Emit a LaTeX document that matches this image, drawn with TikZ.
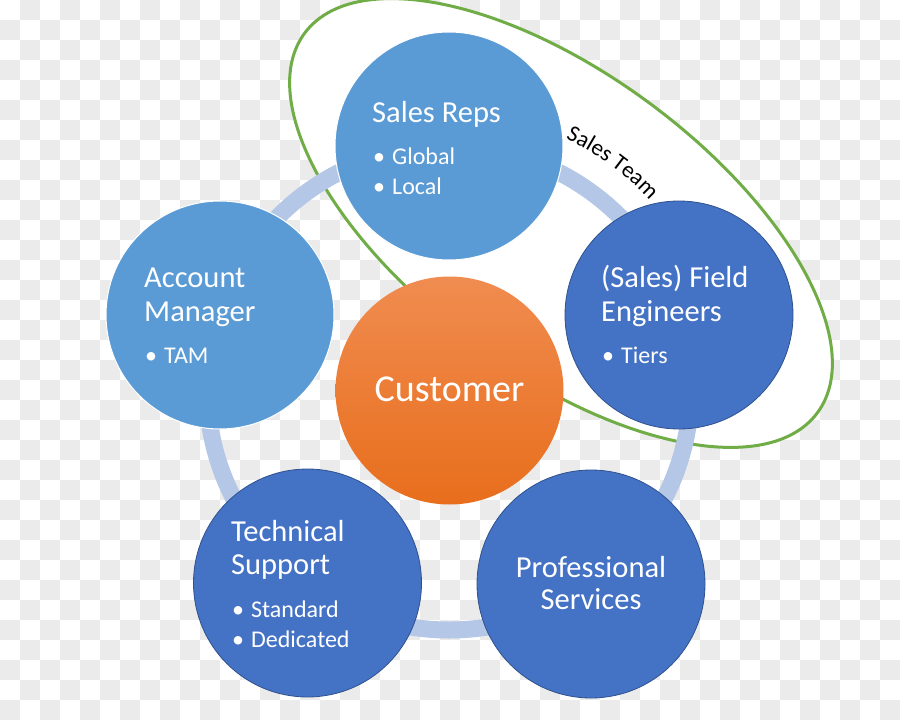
\documentclass[tikz,border=0pt]{standalone}
\usepackage{fontspec}
\setmainfont{Carlito}
\usetikzlibrary{decorations.text}
\definecolor{paleblue}{RGB}{91,155,213}
\definecolor{deepblue}{RGB}{68,114,196}
\definecolor{deepedge}{RGB}{47,82,143}
\definecolor{ringblue}{RGB}{180,199,231}
\definecolor{teamgreen}{RGB}{112,173,71}
\definecolor{custtop}{RGB}{240,140,80}
\definecolor{custbot}{RGB}{232,110,28}
\definecolor{checkgrey}{RGB}{235,235,235}
\newcommand{\teamfont}{\fontsize{23}{27}\selectfont}

\begin{document}
\begin{tikzpicture}[x=1pt,y=-1pt,
	team/.style={draw=teamgreen,line width=3,fill=white},
	ring/.style={draw=ringblue,line width=17},
	role/.style={circle,minimum size=228,inner sep=0},
	paler/.style={role,fill=paleblue,draw=white,line width=1},
	deeper/.style={role,fill=deepblue,draw=deepedge,line width=0.8},
	title/.style={anchor=base west,inner sep=0,text=white,font=\fontsize{30.5}{36}\selectfont},
	item/.style={anchor=base west,inner sep=0,text=white,font=\fontsize{24}{28}\selectfont}]
			\useasboundingbox (0,0) rectangle (900,720);
			% checkered background
			\fill[white] (0,0) rectangle (900,720);
			\foreach \i in {0,2,...,44} \foreach \j in {1,3,...,35} \fill[checkgrey] (\i*20,\j*20) rectangle ++(20,20);
			\foreach \i in {1,3,...,43} \foreach \j in {0,2,...,34} \fill[checkgrey] (\i*20,\j*20) rectangle ++(20,20);
			\coordinate (hub) at (449,388);
			\coordinate (teamc) at (561,223);
			% sales team
			\draw[team,rotate around={-36.5:(teamc)}] (teamc) ellipse [x radius=319,y radius=149];
			\path[decorate,decoration={text along path,text={|\teamfont|Sales Team},text align=center}] (hub) ++(-79:275) arc[start angle=-79,end angle=-29,radius=275];
			\draw[ring] (hub) circle [radius=242];
			% roles
			\node[paler] (reps) at (449,146) {};
			\node[deeper] (field) at (679,315) {};
			\node[paler] (acct) at (220,315) {};
			\node[deeper] (tech) at (307.5,583) {};
			\node[deeper] (prof) at (591,584) {};
			\node[role,top color=custtop,bottom color=custbot] (cust) at (449.5,390.5) {};
			\node[title] (reps-t) at (372,122) {Sales Reps};
			\node[item] (reps-a) at (373,164) {\makebox[19pt][l]{•}Global};
			\node[item] (reps-b) at (373,194) {\makebox[19pt][l]{•}Local};
			\node[title] (acct-t) at (144,287) {Account};
			\node[title] (acct-u) at (144,321) {Manager};
			\node[item] (acct-a) at (145,363) {\makebox[19pt][l]{•}TAM};
			\node[title] (field-t) at (601,287) {(Sales) Field};
			\node[title] (field-u) at (601,321) {Engineers};
			\node[item] (field-a) at (602,363) {\makebox[19pt][l]{•}Tiers};
			\node[title] (tech-t) at (231,541) {Technical};
			\node[title] (tech-u) at (231,574) {Support};
			\node[item] (tech-a) at (232,617) {\makebox[19pt][l]{•}Standard};
			\node[item] (tech-b) at (232,647) {\makebox[19pt][l]{•}Dedicated};
			\node[title,anchor=base] (prof-t) at (591,577) {Professional};
			\node[title,anchor=base] (prof-u) at (591,609) {Services};
			\node[anchor=base,inner sep=0,text=white,font=\fontsize{38}{46}\selectfont] (cust-t) at (449.5,401) {Customer};
		\end{tikzpicture}
\end{document}
